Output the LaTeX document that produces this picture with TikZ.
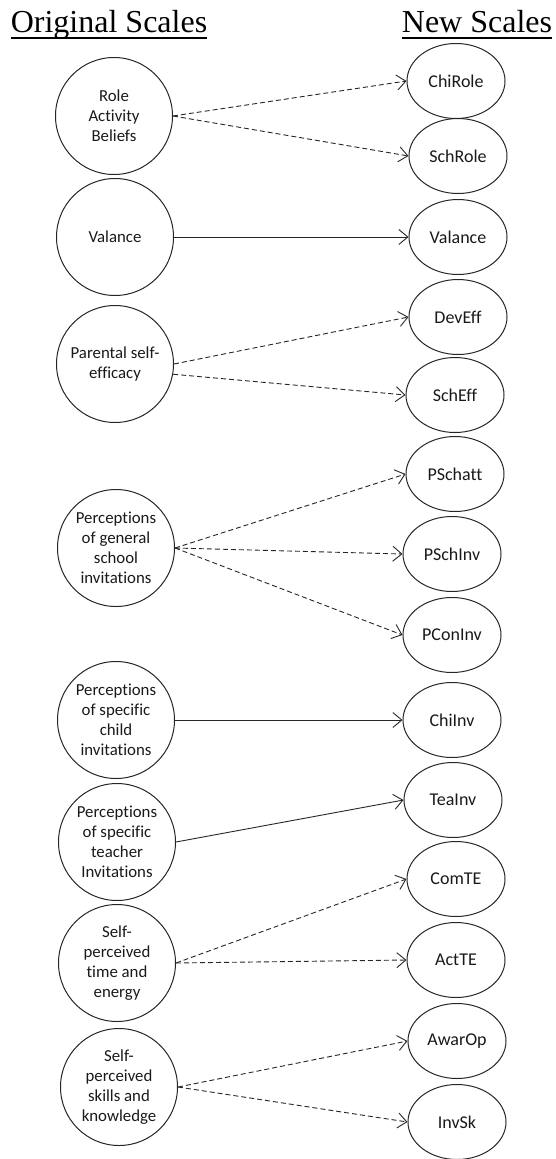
\documentclass[tikz,border=0pt]{standalone}
\usepackage{fontspec}
\setmainfont{Liberation Serif}
\newfontfamily\scalefont[Ligatures={NoCommon,NoRequired,NoContextual}]{Carlito}
\usetikzlibrary{arrows.meta,shapes}
\tikzstyle{oldscale}=[circle,draw=black!85,line width=1pt,minimum size=117pt,inner sep=0pt,align=center,text=black!90,font=\scalefont\fontsize{16.8}{20}\selectfont]
\tikzstyle{newscale}=[ellipse,draw=black!85,line width=1pt,minimum width=98pt,minimum height=75pt,inner sep=0pt,text=black!90,font=\scalefont\fontsize{18}{20}\selectfont]
\tikzstyle{link} = [draw=black!85,line width=0.9pt,-{Straight Barb[length=9pt,width=15pt]}]
\tikzstyle{dashlink} = [link,dash pattern=on 5pt off 3pt]
\tikzstyle{heading}=[inner sep=0pt,anchor=base,font=\fontsize{32}{36}\selectfont]

\begin{document}
\begin{tikzpicture}[x=1pt,y=-1pt]
    \useasboundingbox (0,0) rectangle (555,1159);
    % Headings of the two columns
    \node[heading] (oldhead) at (109,32) {Original Scales};
    \node[heading] (newhead) at (477,32) {New Scales};
    \draw[line width=1.3pt] ([yshift=-6pt]oldhead.base west) -- ([yshift=-6pt]oldhead.base east);
    \draw[line width=1.3pt] ([yshift=-6pt]newhead.base west) -- ([yshift=-6pt]newhead.base east);
    % First we draw the original scales
    \foreach \pos/\name/\txt in {{(114,116)/rab/{Role\\Activity\\Beliefs}},
                                 {(115,237)/val/{Valance}},
                                 {(115,364)/pse/{Parental self-\\efficacy}},
                                 {(116,548)/pgs/{Perceptions\\of general\\school\\invitations}},
                                 {(116,720)/pcc/{Perceptions\\of specific\\child\\invitations}},
                                 {(117,842)/pst/{Perceptions\\of specific\\teacher\\Invitations}},
                                 {(117,963)/ste/{Self-\\perceived\\time and\\energy}},
                                 {(119,1087)/ssk/{Self-\\perceived\\skills and\\knowledge}}}
        \node[oldscale] (\name) at \pos {\txt};
    % Then the new scales
    \foreach \pos/\name in {{(456,81)/ChiRole}, {(458,156)/SchRole},
                            {(458,237)/Valance}, {(458,317)/DevEff},
                            {(455,395)/SchEff}, {(455,474)/PSchatt},
                            {(452,554)/PSchInv}, {(452,635)/PConInv},
                            {(452,720)/ChiInv}, {(453,800)/TeaInv},
                            {(456,879)/ComTE}, {(456,960)/ActTE},
                            {(457,1041)/AwarOp}, {(457,1122)/InvSk}}
        \node[newscale] (\name) at \pos {\name};
    % Connect old scales with new ones
    \foreach \source/\dest in {val.east/Valance.west, pcc.east/ChiInv.west,
                               pst.east/TeaInv.west}
        \path[link] (\source) -- (\dest);
    \foreach \source/\dest in {rab.east/ChiRole.west, rab.east/SchRole.west,
                               pse.east/DevEff.west, pse.-10/SchEff.west,
                               pgs.east/PSchatt.west, pgs.east/PSchInv.west,
                               pgs.east/PConInv.west, ste.east/ComTE.west,
                               ste.east/ActTE.west, ssk.east/AwarOp.west,
                               ssk.east/InvSk.west}
        \path[dashlink] (\source) -- (\dest);
\end{tikzpicture}
\end{document}
